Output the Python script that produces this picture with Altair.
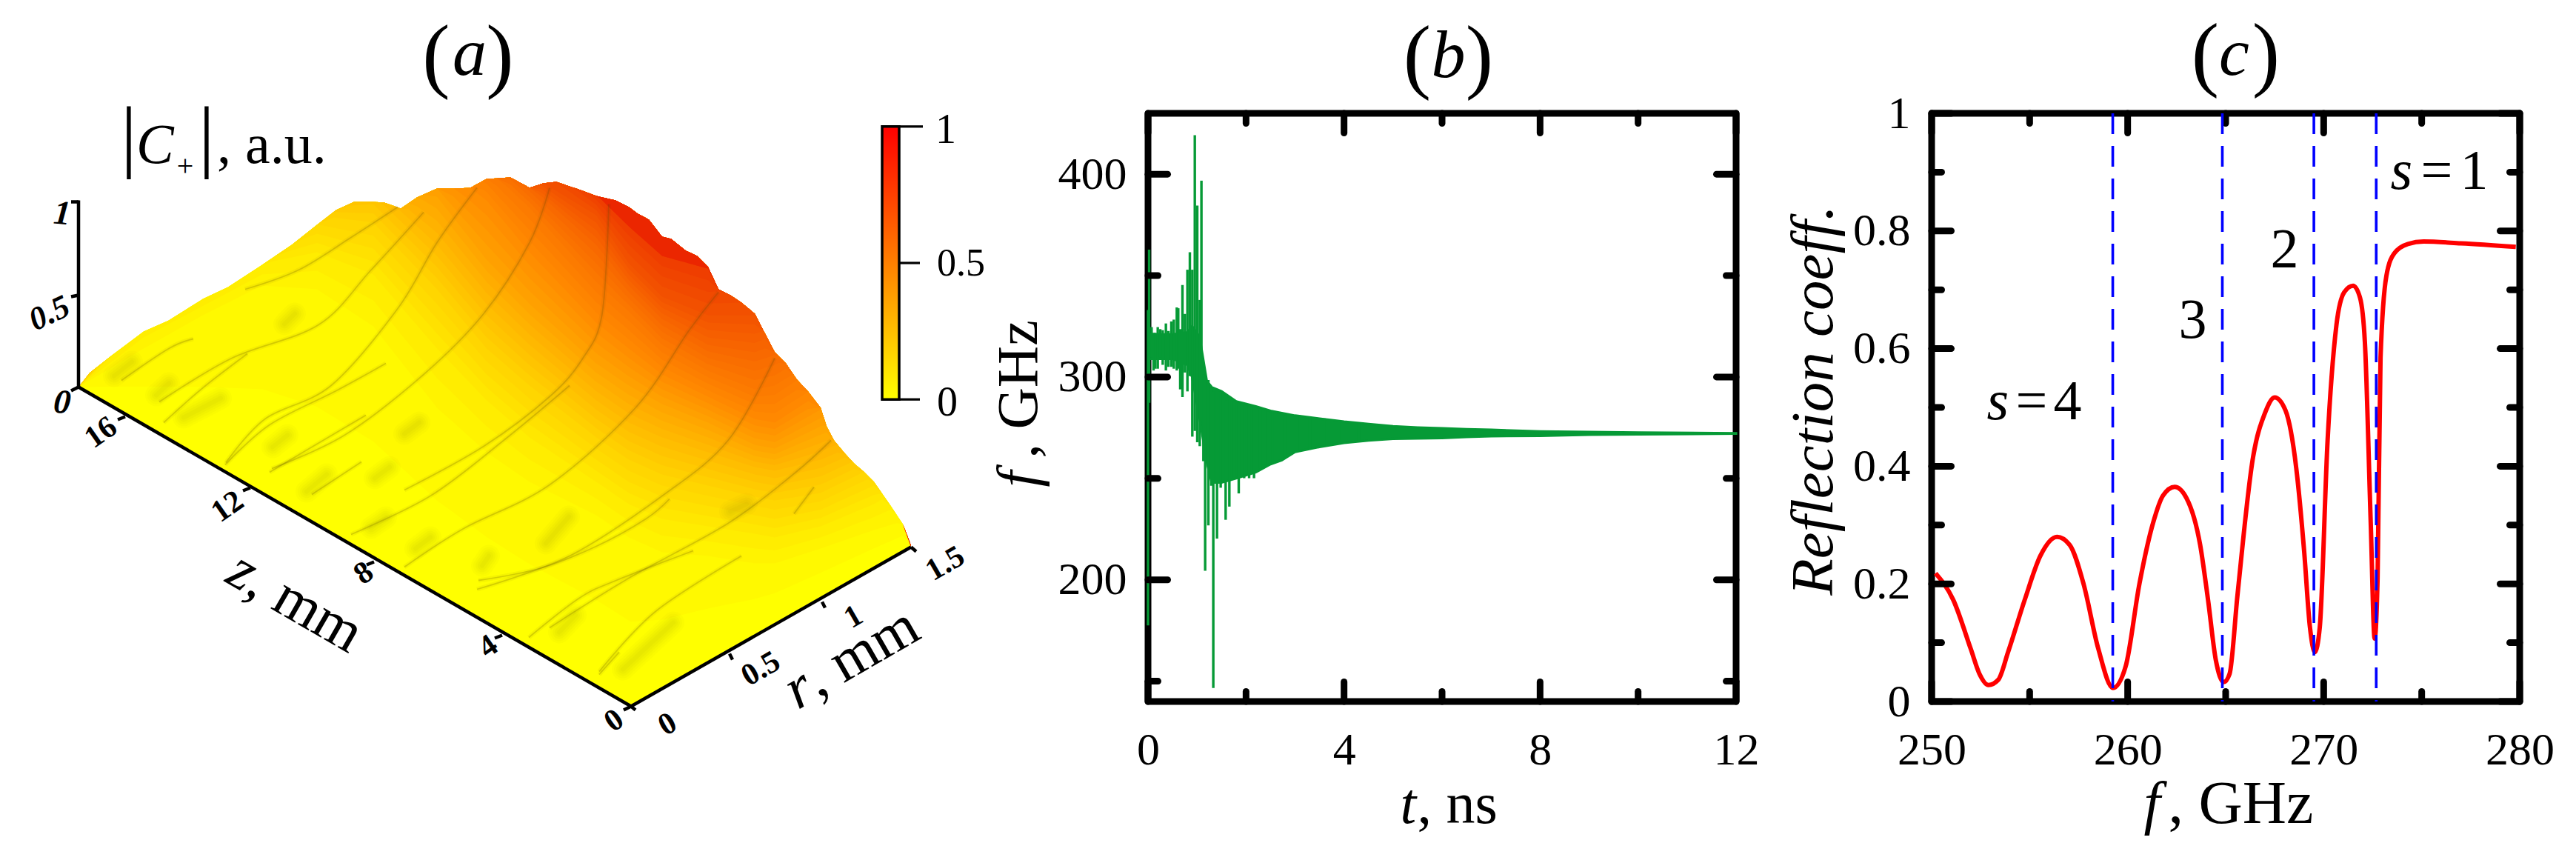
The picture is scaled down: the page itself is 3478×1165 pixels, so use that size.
import altair as alt
import numpy as np
import pandas as pd

SERIF = "Liberation Serif"
GREEN = "#069a36"

# ---------- panel (a): silhouette of the surface, in pixels of the picture
sil_x = [105,120,153,193,227,273,307,353,393,427,453,477,503,518,540,562,589,612,634,656,688,714,732,750,780,804,830,848,860,875,893,905,925,940,955,969,985,1000,1018,1032,1045,1060,1075,1090,1107,1115,1125,1140,1152,1165,1179,1202,1218,1229]
sil_y = [522,503,477,447,432,403,387,357,330,303,283,272,272,273,281,266,254,254,253,241,239,253,247,245,255,264,270,279,288,296,319,322,338,345,360,390,398,408,423,450,475,490,512,528,550,575,594,612,625,636,650,683,707,737]
edge_x = [105, 851, 1229]
edge_y = [522, 951, 736]

# colour level -> y of its contour at each column
cols = [105,193,273,353,427,503,589,656,714,804,848,893,955,1018,1045,1107,1179,1229]
read_levels = [0.05,0.1,0.2,0.3,0.4,0.5,0.6,0.7,0.8,0.9]
contours = [
 [522,470,425,385,390,440,550,610,650,695,725,745,750,760,760,740,715,700],
 [522,440,400,355,340,370,470,540,590,650,680,700,710,720,725,710,680,650],
 [522,420,380,330,290,300,390,470,520,590,620,640,655,670,675,665,630,600],
 [522,400,360,310,270,250,330,410,465,540,570,590,610,630,635,620,590,560],
 [522,380,340,290,250,220,265,350,410,490,520,545,570,600,605,575,550,520],
 [522,360,320,270,220,200,220,270,340,435,470,505,535,565,570,530,500,480],
 [522,340,300,250,200,180,200,225,280,380,420,465,500,525,520,480,460,440],
 [522,320,280,230,180,160,180,200,250,330,385,430,465,475,465,430,420,400],
 [522,300,260,210,160,140,160,180,235,290,355,400,425,425,410,380,380,360],
 [522,280,240,190,140,120,140,160,180,262,305,345,362,355,340,340,340,320],
]
streaks = [
 [(330,390),(402,364),(473,320),(536,279)],
 [(214,542),(312,483),(429,438),(500,364),(571,286)],
 [(304,624),(357,565),(446,520),(536,416),(589,327),(643,253)],
 [(366,632),(464,587),(571,505),(652,423),(714,327),(741,253)],
 [(545,661),(652,602),(741,535),(786,483),(812,423),(821,275)],
 [(473,721),(580,669),(679,594),(768,520)],
 [(545,765),(625,713),(741,654),(857,550),(929,446),(969,394)],
 [(643,795),(768,750),(893,669),(982,594),(1045,483)],
 [(741,847),(848,780),(982,706),(1071,639),(1121,594)],
 [(808,906),(884,825),(1000,750)],
 [(163,513),(227,470),(260,457)],
 [(220,570),(273,523),(333,477)],
 [(303,627),(363,573),(453,527),(520,490)],
 [(363,637),(420,603),(493,560)],
 [(420,667),(487,623)],
 [(713,860),(781,807),(831,783),(935,743)],
 [(645,783),(727,767),(804,737),(871,700),(903,673)],
 [(808,910),(835,880)],
 [(1071,693),(1098,657)],
]
blobs = [
 (153,507,177,488),(210,533,227,517),(247,563,297,537),(367,603,387,587),(413,663,440,640),
 (383,437,397,423),(754,853,776,830),(840,903,908,840),(736,733,767,697),(650,763,659,750),
 (985,690,1007,680),(505,645,525,630),(500,712,520,698),(560,740,580,725),(545,585,565,570),
]
axes3d = [
 (105,270,105,522),(105,522,851,953),(851,953,1229,738),
 (95,272,105,272),(95,400,105,398),(95,527,105,522),
 (158,566,168,562),(327,662,337,658),(494,762,504,758),(667,861,677,857),(841,958,851,953),
 (851,953,857,958),(984,882,988,890),(1109,812,1113,820),(1229,738,1236,744),
]
cb_ticks = [(1.0,1245),(0.5,1241),(0.0,1241)]

# ---------- panel (b)
spike_t  = [0,0.023,0.073,0.113,0.149,0.199,0.249,0.30,0.365,0.416,0.476,0.526,0.587,0.617,0.657,0.703,0.753,0.804,0.854,0.904,0.955,1.005,1.056,1.09,1.13,1.166,1.232,1.292,1.332,1.408,1.483,1.584,1.66,1.76,1.851,1.962,2.063,2.163,2.289,2.391,2.54,2.733,2.85,3.1,3.3,3.6,3.9,4.3]
spike_hi = [333,362.8,324.6,321.8,321.8,324.6,323.6,323.1,326.4,322.7,327.4,328.3,334.3,333.9,323.6,345.4,331.1,352.9,361.5,352.9,419.2,384.5,338,396.8,301.3,300.7,298.5,294.8,292.9,293.9,292.9,288.3,289.2,288.3,287.3,286.4,286.4,285.4,284.5,283.6,283.2,282.1,282,281,280.6,279.6,278.6,277.6]
spike_lo = [177.5,287.3,309.7,303.2,304.1,304.1,309.7,306,303.2,305,305,304.1,303.2,304.1,293.9,290.1,302.2,292.9,300.4,270.6,273.4,267.8,265.9,311.5,258.5,204.5,226.8,246.4,146.7,220.3,245.4,229.6,236.1,250.1,242.6,250.1,250.1,250.1,254.8,256.6,257.5,259,261,263.5,264.4,266,267,268.4]
env_t  = [0.03,0.5,0.8,0.9,1.05,1.2,1.3,1.5,1.8,2.2,2.5,2.73,3,3.5,4,4.5,5,5.5,6,6.5,7,8,9,10,12]
env_hi = [321,321,322,325,320,298,295,293,288,285.5,283.3,282.2,281,279.5,278,276.8,275.7,275.1,274.7,274.3,274,273.2,272.9,272.6,272.3]
env_lo = [309,309,306,300,280,258,248,248,250,253,257,259,263,265.5,267.5,268.7,269.5,269.7,269.9,270.4,270.8,271,271.5,271.7,272.1]
b_x_major, b_x_minor = [0,4,8,12], [2,6,10]
b_y_major, b_y_minor = [200,300,400], [150,250,350]

# ---------- panel (c)
refl_f = [250.2,251.1,252.0,252.44,252.9,253.4,253.9,254.75,255.55,256.4,257.05,257.75,258.5,259.25,259.9,260.6,261.3,261.8,262.4,263.0,263.7,264.1,264.5,264.9,265.2,265.6,266.4,267,267.5,268.05,268.6,269,269.3,269.55,269.8,270.2,270.65,271.05,271.5,271.85,272.1,272.4,272.6,272.75,272.9,273.2,273.6,274.3,275.1,277,279.8]
refl_v = [0.218,0.173,0.089,0.047,0.028,0.037,0.084,0.173,0.248,0.28,0.266,0.20,0.09,0.023,0.06,0.2,0.304,0.35,0.365,0.346,0.266,0.173,0.07,0.033,0.047,0.18,0.416,0.49,0.517,0.495,0.397,0.257,0.126,0.084,0.126,0.444,0.64,0.696,0.707,0.687,0.612,0.304,0.107,0.21,0.584,0.724,0.762,0.778,0.782,0.779,0.773]
modes_f = [259.24,264.83,269.5,272.68]
c_x_major, c_x_minor = [250,260,270,280], [255,265,275]
c_y_major, c_y_minor = [0,0.2,0.4,0.6,0.8,1], [0.1,0.3,0.5,0.7,0.9]

# ---------- layout
W_A, SIDE, GAP = 1276.5, 794, 264
A_LEFT, TOP = 8.0, 152.5
B_LEFT = A_LEFT + W_A + GAP
C_LEFT = B_LEFT + SIDE + GAP
ONE = pd.DataFrame({"a": [0]})


def label(text, x, y, size, ox=0.0, oy=TOP, italic=False, bold=False, angle=0, align="left", baseline="alphabetic"):
    return alt.Chart(ONE).mark_text(
        text=text, font=SERIF, fontSize=size, fontStyle="italic" if italic else "normal",
        fontWeight="bold" if bold else "normal", angle=angle % 360, align=align,
        baseline=baseline, color="black",
    ).encode(x=alt.value(x - ox), y=alt.value(y - oy))


# ---------- panel (a) build
sx_a = alt.Scale(domain=[A_LEFT, A_LEFT + W_A], nice=False, zero=False)
sy_a = alt.Scale(domain=[TOP + SIDE, TOP], nice=False, zero=False)
XA = lambda f: alt.X(f, scale=sx_a, axis=None)
YA = lambda f: alt.Y(f, scale=sy_a, axis=None)

xs = np.array(sorted(set(sil_x) | set(cols) | {851} | set(range(110, 1225, 20))), dtype=float)
top = np.interp(xs, sil_x, sil_y)
bot = np.interp(xs, edge_x, edge_y)
col_arr = np.array(contours, dtype=float)
curve_at = np.array([np.interp(xs, cols, row) for row in col_arr])  # levels x xs
rows = []
for x, t, b in zip(xs, top, bot):
    rows.append({"x": x, "y": t, "y2": b, "level": 0.0})
fine = np.arange(0.025, 0.951, 0.025)
for L in fine:
    for i, (x, t, b) in enumerate(zip(xs, top, bot)):
        y = np.interp(L, [0.0] + read_levels, np.r_[b, curve_at[:, i]])
        rows.append({"x": x, "y": t, "y2": float(np.clip(y, t, b)), "level": round(float(L), 3)})
surf = pd.DataFrame(rows)
surface = alt.Chart(surf).mark_area(interpolate="linear", stroke=None).encode(
    x=XA("x:Q"), y=YA("y:Q"), y2="y2:Q",
    color=alt.Color("level:Q", legend=None,
                    scale=alt.Scale(domain=[0, 0.5, 1], range=["#ffff00", "#ff8800", "#e80800"])),
)

st = pd.DataFrame([{"id": i, "x": p[0], "y": p[1]} for i, s in enumerate(streaks) for p in s])
streak_wide = alt.Chart(st).mark_line(color="#5a4a00", strokeWidth=6, opacity=0.06, interpolate="cardinal").encode(
    x=XA("x:Q"), y=YA("y:Q"), detail="id:N")
streak_thin = alt.Chart(st).mark_line(color="#5a4a00", strokeWidth=1.8, opacity=0.22, interpolate="cardinal").encode(
    x=XA("x:Q"), y=YA("y:Q"), detail="id:N")

bl = pd.DataFrame([{"x": b[0], "y": b[1], "x2": b[2], "y2": b[3]} for b in blobs])
blob_layers = [
    alt.Chart(bl).mark_rule(color="#8a8000", strokeWidth=w, opacity=o, strokeCap="round").encode(
        x=XA("x:Q"), y=YA("y:Q"), x2="x2:Q", y2="y2:Q")
    for w, o in [(30, 0.03), (24, 0.03), (18, 0.04), (12, 0.04), (6, 0.04)]
]

ax = pd.DataFrame(axes3d, columns=["x", "y", "x2", "y2"])
axis_rules = alt.Chart(ax).mark_rule(color="black", strokeWidth=4.5).encode(
    x=XA("x:Q"), y=YA("y:Q"), x2="x2:Q", y2="y2:Q")

cb_y = lambda v: 538.7 - v * 368.4
cb = pd.DataFrame({"x": [1190.0], "x2": [1213.0], "y": [cb_y(0)], "y2": [cb_y(1)]})
cbar = alt.Chart(cb).mark_rect(
    color=alt.Gradient(gradient="linear", x1=0, x2=0, y1=1, y2=0,
                       stops=[alt.GradientStop(color="#ffff00", offset=0),
                              alt.GradientStop(color="#ff0000", offset=1)]),
    stroke="black", strokeWidth=3.5,
).encode(x=XA("x:Q"), x2="x2:Q", y=YA("y:Q"), y2="y2:Q")
cbt = pd.DataFrame([{"x": 1213.0, "x2": e, "y": cb_y(v)} for v, e in cb_ticks])
cbar_ticks = alt.Chart(cbt).mark_rule(color="black", strokeWidth=3.2).encode(
    x=XA("x:Q"), x2="x2:Q", y=YA("y:Q"))

# white hairline that pins the top of the whole picture to the page margin
anchor = alt.Chart(ONE).mark_rule(color="white", strokeWidth=0.01).encode(
    x=alt.value(0), x2=alt.value(2), y=alt.value(8 - TOP))

a_texts = [
    label("(", 580, 110, 112, align="center"), label("a", 625, 100, 92, italic=True, align="center"),
    label(")", 666, 110, 112, align="center"),
    label("|", 165, 218.5, 109, align="center"), label("C", 175, 219, 76, italic=True),
    label("+", 241, 236, 40, align="center"), label("|", 270, 218.5, 109, align="center"),
    label(", a.u.", 284, 219, 76),
    label("1", 1268, 192, 56, align="center"), label("0.5", 1256, 371, 52), label("0", 1256, 560, 56),
    label("1", 75, 288, 46, bold=True, italic=True, angle=5, align="center", baseline="middle"),
    label("0.5", 58, 423, 44, bold=True, italic=True, angle=-25, align="center", baseline="middle"),
    label("0", 75, 543, 46, bold=True, italic=True, angle=5, align="center", baseline="middle"),
    label("16", 127, 583, 42, bold=True, angle=-35, align="center", baseline="middle"),
    label("12", 298, 683, 42, bold=True, angle=-35, align="center", baseline="middle"),
    label("8", 482, 773, 42, bold=True, angle=-35, align="center", baseline="middle"),
    label("4", 650, 872, 42, bold=True, angle=-35, align="center", baseline="middle"),
    label("0", 820, 972, 42, bold=True, angle=-35, align="center", baseline="middle"),
    label("0", 892, 977, 42, bold=True, angle=-30, align="center", baseline="middle"),
    label("0.5", 1018, 902, 42, bold=True, angle=-30, align="center", baseline="middle"),
    label("1", 1143, 832, 42, bold=True, angle=-30, align="center", baseline="middle"),
    label("1.5", 1267, 760, 42, bold=True, angle=-30, align="center", baseline="middle"),
    label("z", 293, 784, 80, italic=True, angle=30), label(", mm", 320, 800, 80, angle=30),
    label("r", 1068, 958, 80, italic=True, angle=-30), label(", mm", 1095, 942, 80, angle=-30),
]
panel_a = alt.layer(surface, streak_wide, streak_thin, *blob_layers, axis_rules, cbar, cbar_ticks, anchor, *a_texts
                    ).properties(width=W_A, height=SIDE)


def tick_axis(values, pad):
    return alt.Axis(values=values, ticks=False, domain=False, grid=False, title=None, format=".4~g",
                    labelFont=SERIF, labelFontSize=62, labelColor="black", labelPadding=pad,
                    labelAngle=0, labelOverlap=False, labelFlush=False, tickSize=0)


def tick_layers(sx, sy, ax_x, ax_y, x_major, x_minor, y_major, y_minor):
    out = []
    MAJOR, MINOR = 26.5, 13.5
    X = alt.X("v:Q", scale=sx, axis=ax_x)
    Y = alt.Y("v:Q", scale=sy, axis=ax_y)
    for vals, length in [(x_major, MAJOR), (x_minor, MINOR)]:
        d = pd.DataFrame({"v": vals})
        out.append(alt.Chart(d).mark_rule(color="black", strokeWidth=9, strokeCap="round").encode(
            x=X, y=alt.value(0), y2=alt.value(length)))
        out.append(alt.Chart(d).mark_rule(color="black", strokeWidth=9, strokeCap="round").encode(
            x=X, y=alt.value(SIDE), y2=alt.value(SIDE - length)))
    for vals, length in [(y_major, MAJOR), (y_minor, MINOR)]:
        d = pd.DataFrame({"v": vals})
        out.append(alt.Chart(d).mark_rule(color="black", strokeWidth=9, strokeCap="round").encode(
            y=Y, x=alt.value(0), x2=alt.value(length)))
        out.append(alt.Chart(d).mark_rule(color="black", strokeWidth=9, strokeCap="round").encode(
            y=Y, x=alt.value(SIDE), x2=alt.value(SIDE - length)))
    return out


FRAME = alt.ViewBackground(stroke="black", strokeWidth=9, strokeJoin="round")

# ---------- panel (b) build
sx_b = alt.Scale(domain=[0, 12], nice=False, zero=False)
sy_b = alt.Scale(domain=[140, 430], nice=False, zero=False)
ax_bx, ax_by = tick_axis(b_x_major, 35), tick_axis(b_y_major, 29)
env = pd.DataFrame({"t": env_t, "hi": env_hi, "lo": env_lo})
spk = pd.DataFrame({"t": spike_t, "hi": spike_hi, "lo": spike_lo})
band = alt.Chart(env).mark_area(color=GREEN, stroke=GREEN, strokeWidth=3.2, interpolate="linear").encode(
    x=alt.X("t:Q", scale=sx_b, axis=ax_bx),
    y=alt.Y("hi:Q", scale=sy_b, axis=ax_by),
    y2="lo:Q",
)
spikes = alt.Chart(spk).mark_rule(color=GREEN, strokeWidth=3.4).encode(
    x=alt.X("t:Q", scale=sx_b, axis=ax_bx), y=alt.Y("hi:Q", scale=sy_b, axis=ax_by), y2="lo:Q")
b_texts = [
    label("(", 1912, 111, 112, ox=B_LEFT, align="center"), label("b", 1954, 103, 92, ox=B_LEFT, italic=True, align="center"),
    label(")", 1996, 111, 112, ox=B_LEFT, align="center"),
    label("t", 1889, 1110, 78, ox=B_LEFT, italic=True), label(", ns", 1912, 1110, 78, ox=B_LEFT),
    label("f", 1398, 657, 78, ox=B_LEFT, italic=True, angle=270), label(", GHz", 1398, 618, 78, ox=B_LEFT, angle=270),
]
panel_b = alt.layer(band, spikes,
                    *tick_layers(sx_b, sy_b, ax_bx, ax_by, b_x_major, b_x_minor, b_y_major, b_y_minor), *b_texts
                    ).properties(width=SIDE, height=SIDE, view=FRAME)

# ---------- panel (c) build
sx_c = alt.Scale(domain=[250, 280], nice=False, zero=False)
sy_c = alt.Scale(domain=[0, 1], nice=False, zero=False)
ax_cx, ax_cy = tick_axis(c_x_major, 35), tick_axis(c_y_major, 29)
refl = pd.DataFrame({"f": refl_f, "v": refl_v})
curve = alt.Chart(refl).mark_line(color="#ff0000", strokeWidth=6, interpolate="monotone", strokeJoin="round").encode(
    x=alt.X("f:Q", scale=sx_c, axis=ax_cx),
    y=alt.Y("v:Q", scale=sy_c, axis=ax_cy),
)
dashes = alt.Chart(pd.DataFrame({"f": modes_f})).mark_rule(color="#0000ff", strokeWidth=3.6, strokeDash=[28, 16]).encode(
    x=alt.X("f:Q", scale=sx_c, axis=ax_cx))
c_texts = [
    label("(", 2976, 108, 112, ox=C_LEFT, align="center"), label("c", 3015, 100, 92, ox=C_LEFT, italic=True, align="center"),
    label(")", 3058, 108, 112, ox=C_LEFT, align="center"),
    label("f", 2893, 1110, 80, ox=C_LEFT, italic=True), label(", GHz", 2926, 1110, 82, ox=C_LEFT),
    label("Reflection coeff.", 2472, 540, 81, ox=C_LEFT, italic=True, angle=270, align="center"),
    label("s", 2681, 565, 76, ox=C_LEFT, italic=True), label("=", 2720, 565, 76, ox=C_LEFT), label("4", 2771, 565, 76, ox=C_LEFT),
    label("3", 2940, 455, 76, ox=C_LEFT), label("2", 3064, 360, 76, ox=C_LEFT),
    label("s", 3226, 254, 76, ox=C_LEFT, italic=True), label("=", 3267, 254, 76, ox=C_LEFT), label("1", 3320, 254, 76, ox=C_LEFT),
]
panel_c = alt.layer(curve, *tick_layers(sx_c, sy_c, ax_cx, ax_cy, c_x_major, c_x_minor, c_y_major, c_y_minor), dashes, *c_texts
                    ).properties(width=SIDE, height=SIDE, view=FRAME)

chart = alt.hconcat(panel_a, panel_b, panel_c, spacing=GAP, bounds="flush", padding=0, background="white"
                    ).configure_view(strokeWidth=0)
chart.save("out.html", embed_options={"renderer": "svg", "actions": False})
